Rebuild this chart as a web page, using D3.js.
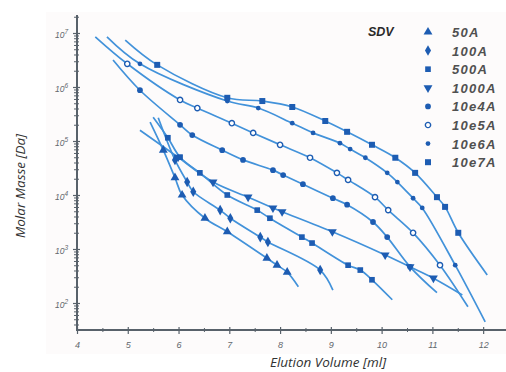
<!DOCTYPE html>
<html>
<head>
<meta charset="utf-8">
<script src="https://cdn.jsdelivr.net/npm/d3@7/dist/d3.min.js"></script>
<style>
  body { margin: 0; background: #fff; }
  svg { display: block; }
</style>
</head>
<body>
<div id="chart"></div>
<script>
// SDV column types, legend order
const poreSizes = ["50A", "100A", "500A", "1000A", "10e4A", "10e5A", "10e6A", "10e7A"];

// axis ticks
const volTicks = [4, 5, 6, 7, 8, 9, 10, 11, 12];
const massExponents = [2, 3, 4, 5, 6, 7];

// calibration data: elution volume [ml] / log10 molar mass [Da]
// first and last value of each array = ends of the fitted curve (no marker there)
const vol_50A   = [5.44, 5.70, 5.93, 6.07, 6.52, 6.96, 7.74, 7.94, 8.14, 8.36];
const lgM_50A   = [5.35, 4.83, 4.32, 4.00, 3.57, 3.32, 2.83, 2.70, 2.57, 2.30];

const vol_100A  = [5.60, 5.93, 6.17, 6.29, 6.82, 7.02, 7.61, 7.76, 8.79, 9.04];
const lgM_100A  = [5.43, 4.65, 4.24, 4.06, 3.72, 3.57, 3.22, 3.13, 2.61, 2.24];

const vol_500A  = [5.50, 5.79, 6.03, 6.42, 6.96, 7.55, 7.80, 8.43, 8.63, 9.34, 9.58, 9.81, 10.21];
const lgM_500A  = [5.44, 5.06, 4.70, 4.41, 4.00, 3.72, 3.57, 3.22, 3.11, 2.70, 2.61, 2.43, 2.06];

const vol_1000A = [5.24, 5.99, 6.68, 7.37, 7.86, 8.04, 9.03, 10.07, 10.56, 11.02, 11.59];
const lgM_1000A = [5.20, 4.70, 4.24, 3.96, 3.76, 3.69, 3.32, 2.89, 2.67, 2.46, 2.15];

const vol_10e4A = [4.71, 5.24, 6.03, 6.27, 6.86, 7.27, 7.86, 8.06, 8.45, 9.04, 9.32, 9.83, 10.11, 10.56, 11.09];
const lgM_10e4A = [6.50, 5.94, 5.30, 5.11, 4.83, 4.65, 4.46, 4.37, 4.20, 3.94, 3.82, 3.50, 3.22, 2.67, 2.19];

const vol_10e5A = [4.36, 4.99, 6.03, 6.37, 7.05, 7.47, 8.00, 8.59, 9.12, 9.34, 9.87, 10.13, 10.62, 11.15, 11.70];
const lgM_10e5A = [6.93, 6.43, 5.76, 5.61, 5.33, 5.15, 4.93, 4.69, 4.41, 4.28, 3.96, 3.72, 3.30, 2.70, 1.93];

const vol_10e6A = [4.59, 5.24, 6.96, 7.57, 8.24, 8.65, 9.18, 9.38, 9.68, 10.11, 10.31, 10.62, 10.80, 11.45, 12.04];
const lgM_10e6A = [6.93, 6.43, 5.74, 5.61, 5.33, 5.15, 4.96, 4.85, 4.69, 4.41, 4.24, 3.94, 3.76, 2.70, 1.65];

const vol_10e7A = [4.95, 5.58, 6.96, 7.65, 8.24, 8.89, 9.32, 9.81, 10.27, 10.66, 11.09, 11.25, 11.51, 12.08];
const lgM_10e7A = [6.87, 6.41, 5.80, 5.74, 5.63, 5.37, 5.17, 4.93, 4.69, 4.41, 3.96, 3.78, 3.30, 2.52];

const seriesVol = [vol_50A, vol_100A, vol_500A, vol_1000A, vol_10e4A, vol_10e5A, vol_10e6A, vol_10e7A];
const seriesLgM = [lgM_50A, lgM_100A, lgM_500A, lgM_1000A, lgM_10e4A, lgM_10e5A, lgM_10e6A, lgM_10e7A];

const width = 506, height = 372;
const lineBlue = "#4292da", dotBlue = "#1d5cb2", axisGrey = "#58616a";

const svg = d3.select("#chart").append("svg")
  .attr("width", width)
  .attr("height", height);

// faint scanned-paper tint behind the figure
svg.append("rect")
  .attr("x", 46).attr("y", 12).attr("width", 460).attr("height", 342)
  .attr("fill", "#fdfbfb");

const x = d3.scaleLinear().domain([4, 12.45]).range([77, 506]);
const y = d3.scaleLog().domain([Math.pow(10, 1.5), Math.pow(10, 7 + 1 / 3)]).range([330, 15]);

// x axis
const xAxis = svg.append("g").attr("transform", "translate(0,330)")
  .call(d3.axisBottom(x).tickValues(volTicks).tickSize(4).tickFormat(d3.format("d")));
xAxis.select(".domain").remove();
xAxis.selectAll(".tick line").attr("y1", -3).attr("y2", 4)
  .attr("stroke", axisGrey).attr("stroke-width", 1.2);
xAxis.selectAll(".tick text").attr("dy", 0).attr("y", 18)
  .attr("font-family", "Liberation Sans, sans-serif").attr("font-size", 9)
  .attr("font-style", "italic").attr("fill", "#62676d");
const xMinor = svg.append("g").attr("transform", "translate(0,330)")
  .call(d3.axisBottom(x).tickValues(volTicks.map(v => v + 0.5)).tickSize(2).tickFormat(""));
xMinor.select(".domain").remove();
xMinor.selectAll(".tick line").attr("y1", -2).attr("y2", 2).attr("stroke", axisGrey);
svg.append("line")
  .attr("x1", 77).attr("x2", 506).attr("y1", 330).attr("y2", 330)
  .attr("stroke", axisGrey).attr("stroke-width", 2);

// y axis (log, decades with minor ticks)
const minorMass = [];
massExponents.concat([1]).forEach(e => {
  for (let m = 2; m <= 9; m++) {
    const v = m * Math.pow(10, e);
    if (v > y.domain()[0] && v < y.domain()[1]) minorMass.push(v);
  }
});
const yMinor = svg.append("g").attr("transform", "translate(77,0)")
  .call(d3.axisLeft(y).tickValues(minorMass).tickSize(3).tickFormat(""));
yMinor.select(".domain").remove();
yMinor.selectAll(".tick line").attr("x1", 2).attr("x2", -3).attr("stroke", axisGrey);
const yAxis = svg.append("g").attr("transform", "translate(77,0)")
  .call(d3.axisLeft(y).tickValues(massExponents.map(e => Math.pow(10, e))).tickSize(4).tickFormat(""));
yAxis.select(".domain").remove();
yAxis.selectAll(".tick line").attr("x1", 3).attr("x2", -4)
  .attr("stroke", axisGrey).attr("stroke-width", 1.2);
svg.append("line")
  .attr("x1", 77).attr("x2", 77).attr("y1", 15).attr("y2", 331)
  .attr("stroke", axisGrey).attr("stroke-width", 2);

const yLab = svg.append("g").selectAll("text")
  .data(massExponents)
  .join("text")
  .attr("x", 68)
  .attr("y", d => y(Math.pow(10, d)) + 5)
  .attr("text-anchor", "end")
  .attr("font-family", "Liberation Sans, sans-serif")
  .attr("font-style", "italic")
  .attr("fill", "#62676d");
yLab.append("tspan").attr("font-size", 8.5).text("10");
yLab.append("tspan").attr("font-size", 6.5).attr("dy", -4).text(d => d);

// axis titles
svg.append("text")
  .attr("x", 328).attr("y", 367)
  .attr("text-anchor", "middle")
  .attr("font-family", "Open Sans, sans-serif")
  .attr("font-style", "italic")
  .attr("font-size", 13.5)
  .attr("fill", "#333")
  .text("Elution Volume [ml]");
svg.append("text")
  .attr("transform", "translate(25,186) rotate(-90)")
  .attr("text-anchor", "middle")
  .attr("font-family", "Open Sans, sans-serif")
  .attr("font-style", "italic")
  .attr("font-size", 13.5)
  .attr("fill", "#333")
  .text("Molar Masse [Da]");

// marker shapes per column type
const symbolOf = [
  { type: d3.symbolTriangle, size: 34, rot: 0, open: false },
  { type: d3.symbolDiamond, size: 32, rot: 0, open: false },
  { type: d3.symbolSquare, size: 32, rot: 0, open: false },
  { type: d3.symbolTriangle, size: 34, rot: 180, open: false },
  { type: d3.symbolCircle, size: 26, rot: 0, open: false },
  { type: d3.symbolCircle, size: 22, rot: 0, open: true },
  { type: d3.symbolCircle, size: 18, rot: 0, open: false },
  { type: d3.symbolSquare, size: 36, rot: 0, open: false }
];

const line = d3.line()
  .x(d => x(d[0]))
  .y(d => y(Math.pow(10, d[1])))
  .curve(d3.curveCatmullRom.alpha(0.5));

const plot = svg.append("g");
poreSizes.forEach((name, i) => {
  const pts = seriesVol[i].map((v, j) => [v, seriesLgM[i][j]]);
  plot.append("path")
    .datum(pts)
    .attr("d", line)
    .attr("fill", "none")
    .attr("stroke", lineBlue)
    .attr("stroke-width", 1.7);
});
poreSizes.forEach((name, i) => {
  const pts = seriesVol[i].map((v, j) => [v, seriesLgM[i][j]]).slice(1, -1);
  const s = symbolOf[i];
  plot.append("g").selectAll("path")
    .data(pts)
    .join("path")
    .attr("d", d3.symbol().type(s.type).size(s.size))
    .attr("transform", d => `translate(${x(d[0])},${y(Math.pow(10, d[1]))}) rotate(${s.rot})`)
    .attr("fill", s.open ? "#fff" : dotBlue)
    .attr("stroke", s.open ? dotBlue : "none")
    .attr("stroke-width", 1.4);
});

// legend
svg.append("text")
  .attr("x", 368).attr("y", 36)
  .attr("font-family", "Liberation Sans, sans-serif")
  .attr("font-style", "italic")
  .attr("font-weight", "bold")
  .attr("font-size", 12.5)
  .attr("fill", "#2a2a2a")
  .text("SDV");
const leg = svg.append("g").selectAll("g")
  .data(poreSizes)
  .join("g")
  .attr("transform", (d, i) => `translate(0,${32 + i * 18.6})`);
leg.append("path")
  .attr("d", (d, i) => d3.symbol().type(symbolOf[i].type).size(symbolOf[i].size)())
  .attr("transform", (d, i) => `translate(428,0) rotate(${symbolOf[i].rot})`)
  .attr("fill", (d, i) => symbolOf[i].open ? "#fff" : dotBlue)
  .attr("stroke", (d, i) => symbolOf[i].open ? dotBlue : "none")
  .attr("stroke-width", 1.4);
leg.append("text")
  .attr("x", 452).attr("y", 5)
  .attr("font-family", "Liberation Sans, sans-serif")
  .attr("font-style", "italic")
  .attr("font-weight", "bold")
  .attr("font-size", 13)
  .attr("letter-spacing", 1.3)
  .attr("fill", "#505050")
  .text(d => d);
</script>
</body>
</html>
